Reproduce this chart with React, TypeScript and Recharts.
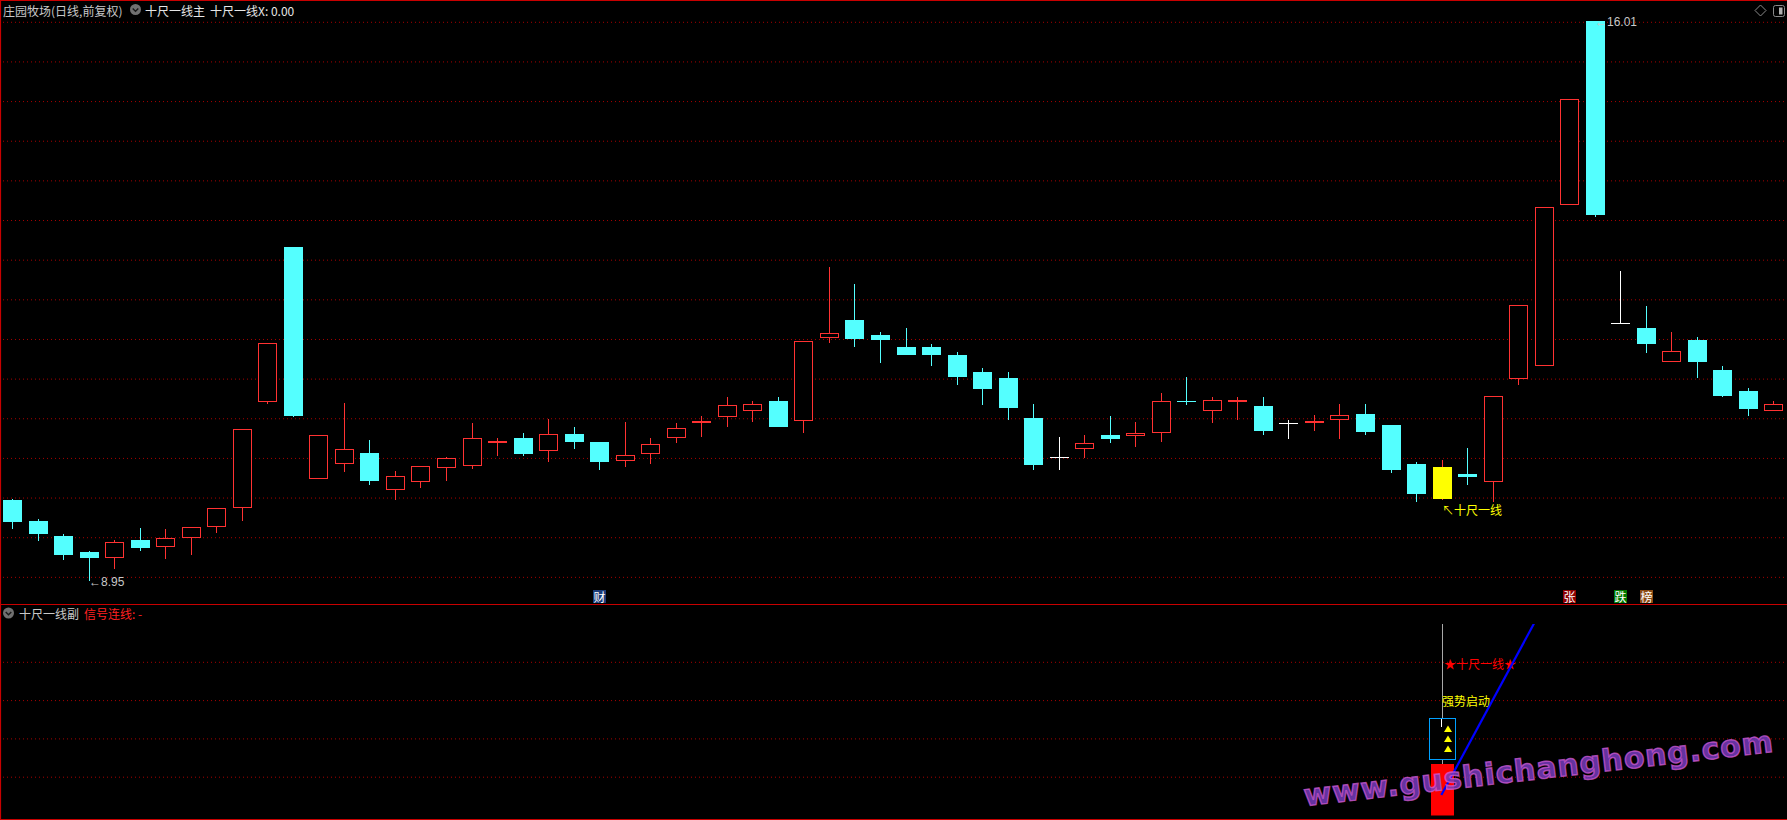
import React from 'react';
import { ComposedChart, Bar, Line, XAxis, YAxis, CartesianGrid } from 'recharts';

const W = 1787;
const H = 820;
const MAIN_H = 604;
const SUB_TOP = 604;
const SUB_H = 216;

// ---- daily candles (price) ----
const opens = [
  9.98, 9.71, 9.52, 9.32, 9.24, 9.47, 9.38, 9.50, 9.64, 9.87,
  11.21, 13.16, 10.24, 10.43, 10.57, 10.10, 10.20, 10.38, 10.41, 10.70,
  10.76, 10.59, 10.81, 10.71, 10.47, 10.55, 10.76, 10.95, 11.02, 11.10,
  11.22, 10.97, 12.02, 12.24, 12.06, 11.91, 11.91, 11.80, 11.59, 11.52,
  11.01, 10.52, 10.62, 10.79, 10.78, 10.82, 11.23, 11.10, 11.21, 11.16,
  10.95, 10.95, 10.99, 11.06, 10.92, 10.43, 9.99, 10.30, 10.20, 11.50,
  11.67, 13.70, 16.01, 12.21, 12.14, 11.72, 11.99, 11.62, 11.35, 11.10,
];
const highs = [
  9.99, 9.73, 9.55, 9.33, 9.47, 9.62, 9.61, 9.64, 9.87, 10.87,
  11.96, 13.16, 10.79, 11.20, 10.73, 10.34, 10.40, 10.52, 10.95, 10.76,
  10.82, 11.00, 10.89, 10.71, 10.96, 10.76, 10.95, 11.03, 11.27, 11.23,
  11.27, 11.98, 12.92, 12.70, 12.10, 12.15, 11.94, 11.84, 11.64, 11.59,
  11.19, 10.77, 10.79, 11.03, 10.96, 11.32, 11.53, 11.27, 11.28, 11.27,
  10.99, 11.05, 11.18, 11.18, 10.92, 10.46, 10.48, 10.63, 11.29, 12.43,
  13.67, 15.03, 16.01, 12.86, 12.42, 12.10, 12.03, 11.66, 11.39, 11.22,
];
const lows = [
  9.61, 9.46, 9.22, 8.95, 9.11, 9.33, 9.23, 9.28, 9.56, 9.71,
  11.18, 11.02, 10.24, 10.33, 10.16, 9.97, 10.13, 10.21, 10.37, 10.53,
  10.53, 10.45, 10.62, 10.36, 10.39, 10.43, 10.69, 10.77, 10.89, 10.96,
  10.89, 10.82, 11.95, 11.91, 11.70, 11.80, 11.66, 11.42, 11.17, 10.98,
  10.35, 10.36, 10.50, 10.69, 10.64, 10.71, 11.17, 10.95, 10.98, 10.79,
  10.74, 10.85, 10.74, 10.80, 10.31, 9.95, 9.98, 10.16, 9.95, 11.42,
  11.67, 13.70, 13.55, 12.21, 11.83, 11.72, 11.52, 11.27, 11.04, 11.10,
];
const closes = [
  9.70, 9.55, 9.28, 9.25, 9.45, 9.37, 9.50, 9.64, 9.87, 10.87,
  11.96, 11.03, 10.79, 10.62, 10.21, 10.28, 10.40, 10.50, 10.76, 10.72,
  10.56, 10.81, 10.71, 10.46, 10.54, 10.68, 10.88, 10.97, 11.17, 11.19,
  10.89, 11.98, 12.08, 12.00, 11.99, 11.80, 11.80, 11.53, 11.38, 11.14,
  10.42, 10.52, 10.69, 10.74, 10.82, 11.22, 11.22, 11.24, 11.24, 10.85,
  10.95, 10.97, 11.05, 10.83, 10.36, 10.05, 10.39, 10.26, 11.29, 12.43,
  13.67, 15.03, 13.57, 12.21, 11.94, 11.86, 11.71, 11.29, 11.12, 11.19,
];

// ---- annotations ----
const priceNotes = [
  { index: 3, kind: 'low', text: '←8.95' },
  { index: 62, kind: 'high', text: '←16.01' },
];
const eventTags = [
  { index: 23, text: '财', kind: 'fin' },
  { index: 61, text: '张', kind: 'up' },
  { index: 63, text: '跌', kind: 'down' },
  { index: 64, text: '榜', kind: 'list' },
];
const SIGNAL_INDEX = 56;
const signalCaption = '↖十尺一线';

// ---- sub panel (十尺一线副) ----
const signalPanel = {
  index: 56,
  barLow: 0,
  barHigh: 26.9,
  stemTop: 100,
  boxLow: 29.5,
  boxHigh: 50.9,
  tickLow: 46.2,
  arrows: [45.0, 39.8, 34.9],
};
const signalTexts = [
  { text: '★十尺一线★', level: 79.6, kind: 'star' },
  { text: '强势启动', level: 60.3, kind: 'strong' },
];
const signalLinePoints = [
  { index: 56, value: 10.7 },
  { index: 60, value: 109.4 },
];

const gridLevels = [9, 9.5, 10, 10.5, 11, 11.5, 12, 12.5, 13, 13.5, 14, 14.5, 15, 15.5, 16];
const subGridLevels = [20, 40, 60, 80];
const MAIN_DOMAIN = [8.664, 16.281];
const SUB_DOMAIN = [0, 100];

const UP = '#FF3232';
const DOWN = '#54FFFF';
const FLAT = '#FFFFFF';
const SIGNAL = '#FFFF00';
const GRID = '#A80000';
const FRAME = '#C80000';
const CJK = '"Noto Sans CJK SC", "Noto Sans", sans-serif';
const NUM = '"Liberation Sans", Arial, sans-serif';
const tagColors: Record<string, string> = { fin: '#1B3B78', up: '#8E0000', down: '#007A00', list: '#8A4A14' };
const textColors: Record<string, string> = { star: '#FF0000', strong: '#FFFF00' };

const rows = opens.map((o, i) => {
  const link = signalLinePoints.find((p) => p.index === i);
  return {
    day: String(i + 1),
    open: o,
    high: highs[i],
    low: lows[i],
    close: closes[i],
    range: [lows[i], highs[i]],
    signal: i === SIGNAL_INDEX,
    note: priceNotes.find((n) => n.index === i) || null,
    tag: eventTags.find((t) => t.index === i) || null,
    panel: i === signalPanel.index ? [signalPanel.barLow, signalPanel.stemTop] : null,
    link: link ? link.value : null,
  };
});

const Candle = (props: any) => {
  const { x, y, width, height, payload } = props;
  if (!payload || x == null || y == null) return null;
  const top = Math.min(y, y + height);
  const h = Math.abs(height);
  const { open, high, low, close } = payload;
  const k = h / (high - low || 1);
  const py = (v: number) => Math.round(top + (high - v) * k);
  const cx = Math.round(x + width / 2);
  const wx = cx + 0.5;
  const left = cx - 9;
  const bw = 19;
  const parts: any[] = [];
  const yH = py(high);
  const yL = py(low);
  const yO = py(open);
  const yC = py(close);
  if (payload.signal) {
    const t = Math.min(yO, yC);
    const b = Math.max(yO, yC);
    parts.push(<line key="w" x1={wx} x2={wx} y1={yH} y2={yL} stroke={UP} strokeWidth={1} />);
    parts.push(<rect key="b" x={left} y={t} width={bw} height={Math.max(1, b - t)} fill={SIGNAL} />);
  } else if (close > open) {
    parts.push(<line key="w1" x1={wx} x2={wx} y1={yH} y2={yC} stroke={UP} strokeWidth={1} />);
    parts.push(<line key="w2" x1={wx} x2={wx} y1={yO} y2={yL} stroke={UP} strokeWidth={1} />);
    parts.push(
      <rect key="b" x={left + 0.5} y={yC + 0.5} width={bw - 1} height={Math.max(1, yO - yC - 1)} fill="#000" stroke={UP} strokeWidth={1} />
    );
  } else if (close < open) {
    parts.push(<line key="w" x1={wx} x2={wx} y1={yH} y2={yL} stroke={DOWN} strokeWidth={1} />);
    parts.push(<rect key="b" x={left} y={yO} width={bw} height={Math.max(1, yC - yO)} fill={DOWN} />);
  } else {
    parts.push(<line key="w" x1={wx} x2={wx} y1={yH} y2={yL} stroke={FLAT} strokeWidth={1} />);
    parts.push(<line key="b" x1={left} x2={left + bw} y1={yO + 0.5} y2={yO + 0.5} stroke={FLAT} strokeWidth={1} />);
  }
  if (payload.note) {
    const ny = payload.note.kind === 'low' ? yL + 1 : yH + 1;
    parts.push(
      <text key="n" x={cx} y={ny} fill="#C8C8C8" fontSize={12} fontFamily={NUM} dominantBaseline="central">
        {payload.note.text}
      </text>
    );
  }
  if (payload.signal) {
    parts.push(
      <text key="s" x={cx} y={yL + 9.5} fill={SIGNAL} fontSize={12} fontFamily={CJK} dominantBaseline="central">
        {signalCaption}
      </text>
    );
  }
  if (payload.tag) {
    const ty = MAIN_H - 14;
    parts.push(
      <g key="t">
        <rect x={cx - 6} y={ty} width={13} height={13} fill={tagColors[payload.tag.kind]} />
        <text x={cx + 0.5} y={ty + 6.5} fill="#FFFFFF" fontSize={12} fontFamily={CJK} textAnchor="middle" dominantBaseline="central">
          {payload.tag.text}
        </text>
      </g>
    );
  }
  return <g>{parts}</g>;
};

const SignalShape = (props: any) => {
  const { x, y, width, height, payload } = props;
  if (!payload || !payload.panel || x == null) return null;
  const top = Math.min(y, y + height);
  const h = Math.abs(height);
  const lo = payload.panel[0];
  const hi = payload.panel[1];
  const k = h / (hi - lo || 1);
  const py = (v: number) => Math.round(top + (hi - v) * k);
  const cx = Math.round(x + width / 2);
  const wx = cx + 0.5;
  const sp = signalPanel;
  return (
    <g>
      <line x1={wx} x2={wx} y1={py(sp.stemTop)} y2={py(sp.barHigh)} stroke="#A8A8A8" strokeWidth={1} />
      <rect x={cx - 11} y={py(sp.barHigh)} width={23} height={py(sp.barLow) - py(sp.barHigh)} fill="#FF0000" />
      <rect x={cx - 12.5} y={py(sp.boxHigh) + 0.5} width={26} height={py(sp.boxLow) - py(sp.boxHigh)} fill="#000" stroke="#00A0FF" strokeWidth={1} />
      <line x1={wx - 1} x2={wx - 1} y1={py(sp.boxHigh) + 1} y2={py(sp.tickLow)} stroke="#FFFFFF" strokeWidth={1} />
      {sp.arrows.map((a, i) => {
        const ay = py(a);
        const ax = cx + 6;
        return <polygon key={i} points={`${ax},${ay - 3.5} ${ax + 4},${ay + 3} ${ax - 4},${ay + 3}`} fill="#FFFF00" />;
      })}
      {signalTexts.map((t, i) => (
        <text
          key={i}
          x={t.kind === 'star' ? cx + 2 : cx}
          y={py(t.level)}
          fill={textColors[t.kind]}
          fontSize={12}
          fontFamily={CJK}
          dominantBaseline="central"
        >
          {t.text}
        </text>
      ))}
    </g>
  );
};

const Chevron = ({ cx, cy }: { cx: number; cy: number }) => (
  <g>
    <circle cx={cx} cy={cy} r={5.5} fill="#707070" />
    <path d={`M${cx - 2.8},${cy - 1} L${cx},${cy + 1.8} L${cx + 2.8},${cy - 1}`} stroke="#1A1A1A" strokeWidth={1.4} fill="none" />
  </g>
);

export default function App() {
  return (
    <div style={{ position: 'fixed', left: 0, top: 0, width: W, height: H, background: '#000', overflow: 'hidden' }}>
      <div style={{ position: 'absolute', left: 0, top: 0 }}>
        <ComposedChart width={W} height={MAIN_H} data={rows} margin={{ top: 0, right: 1, bottom: 0, left: -1 }} barCategoryGap={0}>
          <CartesianGrid vertical={false} horizontal stroke={GRID} strokeDasharray="1 3" horizontalValues={gridLevels} />
          <XAxis dataKey="day" hide />
          <YAxis hide domain={MAIN_DOMAIN} ticks={gridLevels} type="number" allowDataOverflow />
          <Bar dataKey="range" shape={<Candle />} isAnimationActive={false} />
        </ComposedChart>
      </div>
      <div style={{ position: 'absolute', left: 0, top: SUB_TOP }}>
        <ComposedChart width={W} height={SUB_H} data={rows} margin={{ top: 20, right: 1, bottom: 4.5, left: -1 }} barCategoryGap={0}>
          <CartesianGrid vertical={false} horizontal stroke={GRID} strokeDasharray="1 3" horizontalValues={subGridLevels} />
          <XAxis dataKey="day" hide />
          <YAxis hide domain={SUB_DOMAIN} ticks={subGridLevels} type="number" allowDataOverflow />
          <Bar dataKey="panel" shape={<SignalShape />} isAnimationActive={false} />
          <Line dataKey="link" stroke="#0000FF" strokeWidth={2.2} dot={false} connectNulls isAnimationActive={false} />
        </ComposedChart>
      </div>
      <svg width={W} height={H} style={{ position: 'absolute', left: 0, top: 0, pointerEvents: 'none' }}>
        <line x1={0} x2={W} y1={0.5} y2={0.5} stroke={FRAME} strokeWidth={1.2} />
        <line x1={0.5} x2={0.5} y1={0} y2={H} stroke={FRAME} strokeWidth={1.2} />
        <line x1={0} x2={W} y1={604.5} y2={604.5} stroke={FRAME} strokeWidth={1.2} />
        <line x1={0} x2={W} y1={819.5} y2={819.5} stroke={FRAME} strokeWidth={1.2} />

        <text x={3} y={10} fill="#C8C8C8" fontSize={12} fontFamily={CJK} dominantBaseline="central">庄园牧场(日线,前复权)</text>
        <Chevron cx={135.5} cy={9.5} />
        <text x={145} y={10} fill="#E6E6E6" fontSize={12} fontFamily={CJK} dominantBaseline="central">十尺一线主</text>
        <text x={210} y={10} fill="#E6E6E6" fontSize={12} fontFamily={CJK} dominantBaseline="central">十尺一线X: 0.00</text>

        <path d="M1760.5,5 L1766,10.5 L1760.5,16 L1755,10.5 Z" fill="none" stroke="#8A8A8A" strokeWidth={1} />
        <rect x={1773.5} y={5.5} width={11} height={11} rx={2} fill="none" stroke="#8A8A8A" strokeWidth={1} />
        <rect x={1779} y={7.5} width={3.5} height={7} fill="#B0B0B0" />

        <Chevron cx={8.5} cy={613} />
        <text x={19} y={613.5} fill="#C8C8C8" fontSize={12} fontFamily={CJK} dominantBaseline="central">十尺一线副</text>
        <text x={84} y={613.5} fill="#FF2020" fontSize={12} fontFamily={CJK} dominantBaseline="central">信号连线: -</text>

        <text
          x={1305}
          y={806}
          transform="rotate(-6.6 1305 806)"
          fill="rgba(120,60,190,0.85)"
          stroke="rgba(210,90,210,0.75)"
          strokeWidth={1.4}
          fontSize={30}
          fontWeight="bold"
          letterSpacing={0.9}
          fontFamily='"DejaVu Sans", Verdana, sans-serif'
        >
          www.gushichanghong.com
        </text>
      </svg>
    </div>
  );
}
